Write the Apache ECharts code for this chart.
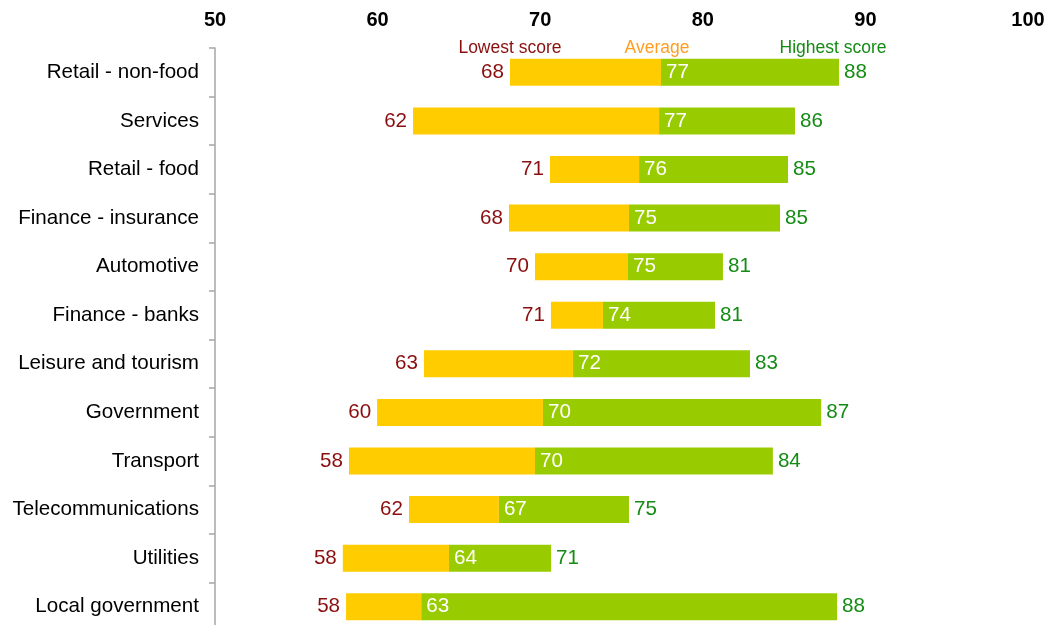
<!DOCTYPE html>
<html>
<head>
<meta charset="utf-8">
<script src="https://cdn.jsdelivr.net/npm/echarts@6/dist/echarts.min.js"></script>
<style>
html,body{margin:0;padding:0;background:#fff;overflow:hidden;width:1049px;height:625px;}
#chart{width:1049px;height:631px;}
</style>
</head>
<body>
<div id="chart"></div>
<script>
var categories = ['Retail - non-food','Services','Retail - food','Finance - insurance','Automotive','Finance - banks','Leisure and tourism','Government','Transport','Telecommunications','Utilities','Local government'];
var lowest  = [68.14, 62.18, 70.60, 68.08, 69.68, 70.66, 62.85, 59.97, 58.24, 61.93, 57.86, 58.06];
var average = [77.43, 77.31, 76.08, 75.46, 75.40, 73.86, 72.02, 70.17, 69.68, 67.46, 64.39, 62.68];
var highest = [88.38, 85.67, 85.24, 84.75, 81.24, 80.75, 82.90, 87.28, 84.31, 75.46, 70.67, 88.26];
var xTicks = [50, 60, 70, 80, 90, 100];
var headers = ['Lowest score', 'Average', 'Highest score'];

var FONT = 'Liberation Sans, Arial, sans-serif';
var RED = '#8B0E0E', GREEN = '#148C14', ORANGE = '#FF9E22';
var YELLOW = '#FFCC00', LIME = '#99CC00';
var FS = 20.6;
var PAD = [3, 0, 0, 0];

var base = lowest.slice();
var mid = average.map(function(v, i){ return v - lowest[i]; });
var top2 = highest.map(function(v, i){ return v - average[i]; });

var chart = echarts.init(document.getElementById('chart'), null, {renderer: 'canvas'});
var option = {
  animation: false,
  backgroundColor: '#fff',
  grid: {left: 215, right: 21, top: 48, bottom: 0, containLabel: false},
  xAxis: {
    type: 'value', position: 'top', min: xTicks[0], max: xTicks[xTicks.length - 1], interval: 10,
    axisLine: {show: false}, axisTick: {show: false}, splitLine: {show: false},
    axisLabel: {fontFamily: FONT, fontSize: 20, fontWeight: 'bold', color: '#000', margin: 18}
  },
  yAxis: {
    type: 'category', data: categories, inverse: true,
    axisLine: {show: true, lineStyle: {color: '#A6A6A6', width: 1.5}},
    axisTick: {show: true, length: 6, lineStyle: {color: '#A6A6A6', width: 1.5}},
    axisLabel: {fontFamily: FONT, fontSize: FS, color: '#000', margin: 16, padding: PAD}
  },
  series: [
    {
      type: 'bar', stack: 's', data: base, barWidth: 27,
      itemStyle: {color: 'rgba(0,0,0,0)'},
      label: {show: true, position: 'insideRight', distance: 6, color: RED, fontFamily: FONT, fontSize: FS, padding: PAD,
        formatter: function(p){ return Math.round(lowest[p.dataIndex]); }},
      silent: true
    },
    {
      type: 'bar', stack: 's', data: mid, barWidth: 27, z: 4,
      itemStyle: {color: YELLOW},
      label: {show: true, position: 'right', distance: 5, color: '#fff', fontFamily: FONT, fontSize: FS, padding: PAD,
        formatter: function(p){ return Math.round(average[p.dataIndex]); }}
    },
    {
      type: 'bar', stack: 's', data: top2, barWidth: 27, z: 3,
      itemStyle: {color: LIME},
      label: {show: true, position: 'right', distance: 5, color: GREEN, fontFamily: FONT, fontSize: FS, padding: PAD,
        formatter: function(p){ return Math.round(highest[p.dataIndex]); }}
    }
  ]
};
chart.setOption(option);

var p0 = chart.convertToPixel({gridIndex: 0}, [lowest[0], 0]);
var p1 = chart.convertToPixel({gridIndex: 0}, [average[0], 0]);
var p2 = chart.convertToPixel({gridIndex: 0}, [highest[0], 0]);
var hy = p0[1] - 24;
function hdr(x, txt, col){
  return {type: 'text', x: x, y: hy, style: {text: txt, fill: col, font: '17.5px ' + FONT, textAlign: 'center', textVerticalAlign: 'middle'}};
}
chart.setOption({graphic: [hdr(p0[0], headers[0], RED), hdr(p1[0] - 4, headers[1], ORANGE), hdr(p2[0] - 6, headers[2], GREEN)]});
</script>
</body>
</html>
